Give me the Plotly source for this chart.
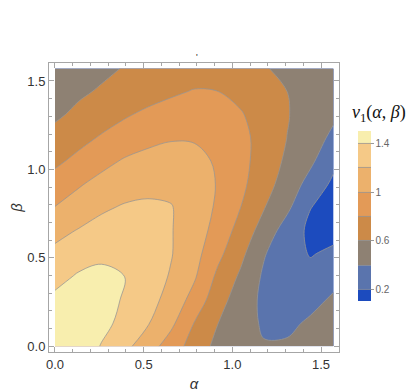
import plotly.graph_objects as go

alpha_vals = [0.0, 0.1309, 0.2618, 0.3927, 0.5236, 0.6545, 0.7854,
              0.9163, 1.0472, 1.1781, 1.3090, 1.4399, 1.5708]
beta_vals = [0.0, 0.1309, 0.2618, 0.3927, 0.5236, 0.6545, 0.7854,
             0.9163, 1.0472, 1.1781, 1.3090, 1.4399, 1.5708]

# Estimated values of v1(alpha, beta), one row per beta value
v1_beta_00 = [1.53, 1.496, 1.392, 1.252, 1.091, 0.906, 0.715, 0.547, 0.447, 0.41, 0.418, 0.44, 0.465]
v1_beta_01 = [1.508, 1.48, 1.44, 1.36, 1.214, 1.043, 0.795, 0.605, 0.467, 0.38, 0.37, 0.42, 0.44]
v1_beta_02 = [1.44, 1.46, 1.44, 1.39, 1.269, 1.132, 0.925, 0.683, 0.499, 0.36, 0.33, 0.36, 0.42]
v1_beta_03 = [1.344, 1.42, 1.43, 1.40, 1.291, 1.184, 1.023, 0.761, 0.568, 0.37, 0.30, 0.25, 0.36]
v1_beta_04 = [1.248, 1.32, 1.375, 1.375, 1.30, 1.21, 1.07, 0.854, 0.649, 0.415, 0.27, 0.19, 0.23]
v1_beta_05 = [1.139, 1.21, 1.27, 1.29, 1.27, 1.21, 1.095, 0.933, 0.724, 0.519, 0.31, 0.16, 0.15]
v1_beta_06 = [1.005, 1.085, 1.17, 1.22, 1.23, 1.21, 1.10, 0.976, 0.80, 0.61, 0.44, 0.205, 0.13]
v1_beta_07 = [0.881, 0.98, 1.06, 1.11, 1.15, 1.15, 1.10, 0.99, 0.846, 0.677, 0.515, 0.33, 0.16]
v1_beta_08 = [0.761, 0.849, 0.943, 1.02, 1.06, 1.08, 1.05, 0.98, 0.86, 0.713, 0.566, 0.437, 0.247]
v1_beta_09 = [0.661, 0.739, 0.82, 0.89, 0.95, 0.985, 0.985, 0.95, 0.855, 0.727, 0.598, 0.484, 0.36]
v1_beta_10 = [0.57, 0.639, 0.709, 0.78, 0.84, 0.87, 0.89, 0.87, 0.815, 0.717, 0.61, 0.52, 0.43]
v1_beta_11 = [0.52, 0.57, 0.62, 0.67, 0.72, 0.775, 0.81, 0.802, 0.75, 0.68, 0.60, 0.53, 0.47]
v1_beta_12 = [0.48, 0.52, 0.56, 0.61, 0.66, 0.70, 0.72, 0.72, 0.69, 0.615, 0.55, 0.51, 0.49]

contour_start = 0.2
contour_end = 1.4
contour_step = 0.2

band_colors = ["#1c4bbe", "#5a74ad", "#8e8173", "#cc8a48",
               "#e39a57", "#ecb16c", "#f5c987", "#f8eeae"]

tick_vals = [0.0, 0.5, 1.0, 1.5]
tick_text = ["0.0", "0.5", "1.0", "1.5"]
cbar_vals = [0.2, 0.6, 1.0, 1.4]
cbar_text = ["0.2", "0.6", "1", "1.4"]

z = [v1_beta_00, v1_beta_01, v1_beta_02, v1_beta_03, v1_beta_04, v1_beta_05, v1_beta_06,
     v1_beta_07, v1_beta_08, v1_beta_09, v1_beta_10, v1_beta_11, v1_beta_12]

n = len(band_colors)
colorscale = [[k / (n - 1), c] for k, c in enumerate(band_colors)]

frame = "#a6a6a6"

# The page adds an 8px body margin, so the figure is 8px smaller than the window
W, H = 407, 384

fig = go.Figure(go.Contour(
    x=alpha_vals, y=beta_vals, z=z,
    colorscale=colorscale,
    autocontour=False,
    contours=dict(start=contour_start, end=contour_end, size=contour_step, coloring="fill"),
    line=dict(color="rgba(150,150,150,0.85)", width=0.9, smoothing=1.0),
    colorbar=dict(
        thickness=13, thicknessmode="pixels",
        len=170, lenmode="pixels",
        x=1.0655, xanchor="left", y=0.7637, yanchor="top",
        xpad=0, ypad=0, outlinewidth=0,
        tickvals=cbar_vals, ticktext=cbar_text,
        ticks="outside", ticklen=3, tickcolor="#999999",
        tickfont=dict(family="Liberation Sans", size=10, color="#666666"),
    ),
    hoverinfo="skip",
))

axis_common = dict(
    automargin=False,
    showline=True, linecolor=frame, linewidth=1, mirror="allticks",
    ticks="inside", ticklen=5, tickcolor=frame, tickwidth=1,
    tickvals=tick_vals, ticktext=tick_text,
    minor=dict(ticks="inside", ticklen=3, tickcolor=frame, dtick=0.1, tick0=0, showgrid=False),
    showgrid=False, zeroline=False,
    tickfont=dict(family="Liberation Sans", size=13, color="#333333"),
)

fig.update_layout(
    template="none",
    width=W, height=H,
    margin=dict(l=41, r=76, t=55, b=40, autoexpand=False),
    paper_bgcolor="white", plot_bgcolor="white",
    xaxis=dict(range=[-0.0338, 1.6015],
               title=dict(text="<i>α</i>", standoff=8,
                          font=dict(family="Liberation Sans", size=15, color="#333333")),
               **axis_common),
    yaxis=dict(range=[-0.0322, 1.6017],
               title=dict(text="<i>β</i>", standoff=6,
                          font=dict(family="Liberation Sans", size=15, color="#333333")),
               **axis_common),
    annotations=[
        dict(text="<i>v</i><sub>1</sub>(<i>α</i>, <i>β</i>)", x=1.139, y=0.826,
             xref="paper", yref="paper", xanchor="center", yanchor="middle",
             showarrow=False,
             font=dict(family="Liberation Serif", size=18, color="#111111")),
        dict(text="'", x=0.512, y=1.022, xref="paper", yref="paper",
             xanchor="center", yanchor="middle", showarrow=False,
             font=dict(family="Liberation Sans", size=9, color="#222222")),
    ],
)

fig.write_html("out.html")
